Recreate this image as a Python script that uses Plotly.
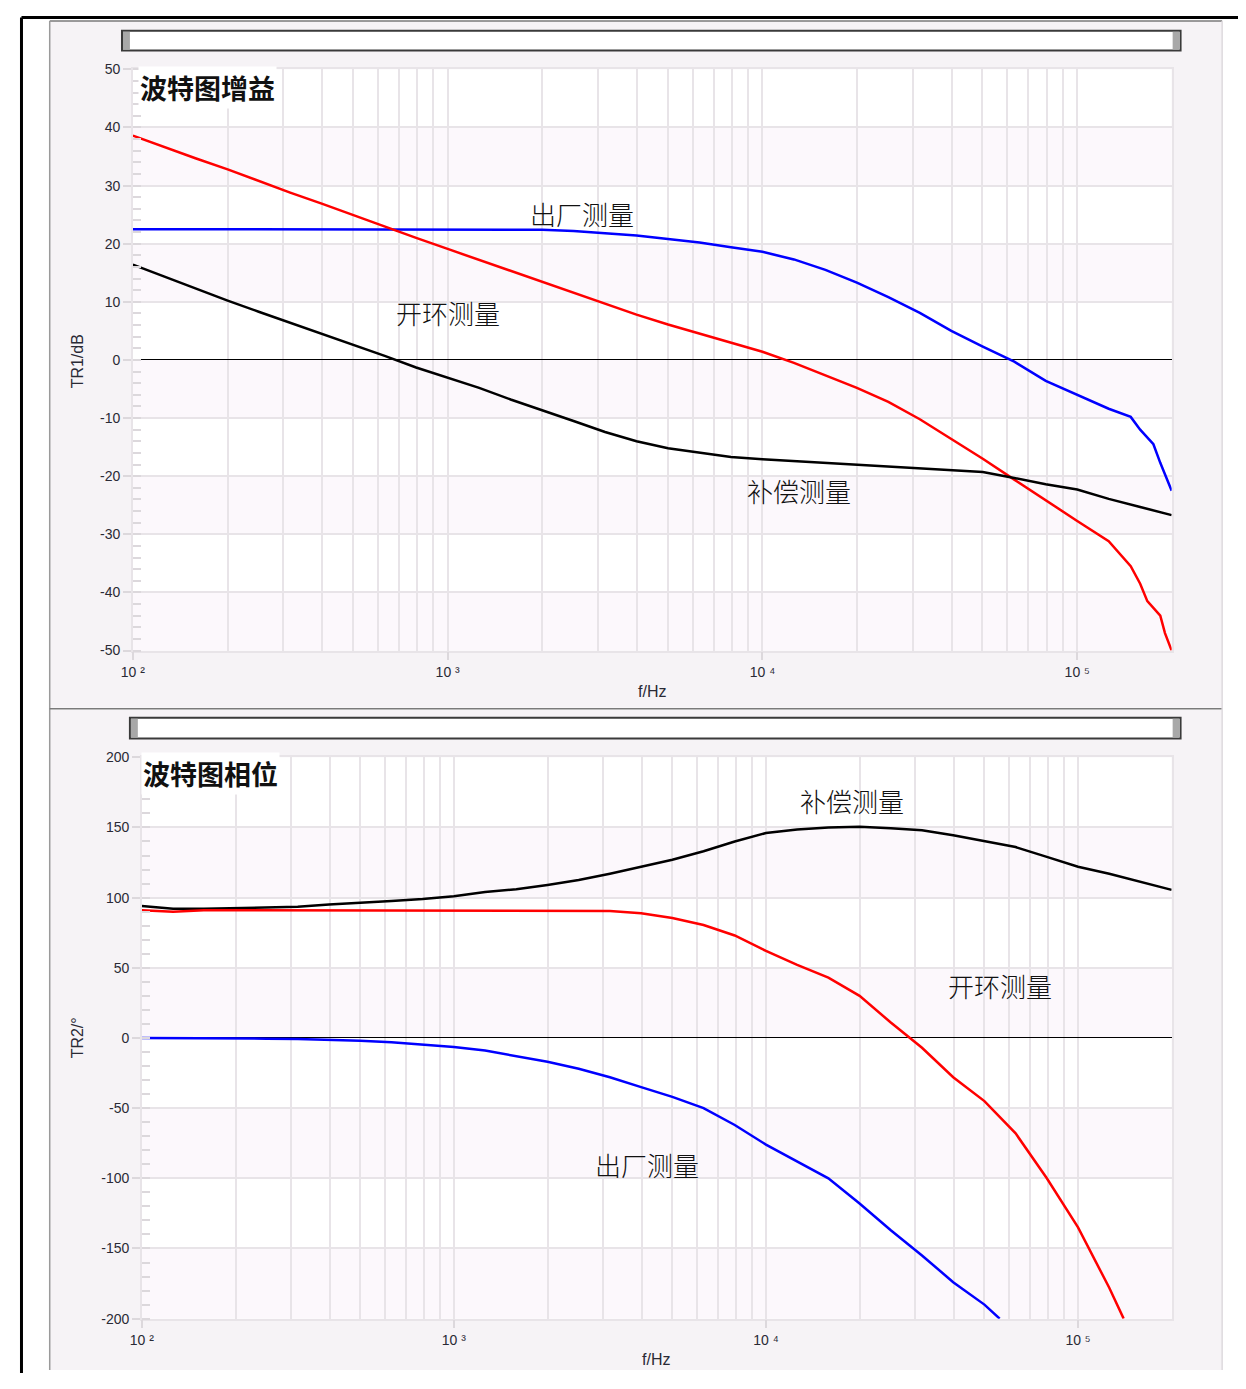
import plotly.graph_objects as go

# ---------------- data ----------------
# Gain (top panel), frequency in Hz
GAIN_FREQ = [100, 126, 158, 200, 251, 316, 398, 501, 631, 794,
             1000, 1259, 1585, 1995, 2512, 3162, 3981, 5012, 6310, 7943,
             10000, 12589, 15849, 19953, 25119, 31623, 39811, 50119, 63096, 79433,
             100000, 125893, 158489, 199526]

open_gain = [38.6, 36.6, 34.7, 32.8, 30.8, 28.8, 26.9, 24.9, 22.9, 21.0,
             19.1, 17.2, 15.3, 13.4, 11.5, 9.6, 7.8, 6.1, 4.5, 3.0,
             1.4, -0.5, -2.6, -4.8, -7.2, -10.2, -13.6, -17.0, -20.6, -24.2,
             -27.7, -31.2, -38.5, -50.0]
open_gain_tail_freq = [147900, 158489, 167000, 183600, 190000, 199526]
open_gain_tail = [-35.5, -38.5, -41.5, -44.0, -47.0, -50.0]

factory_gain = [22.5, 22.5, 22.4, 22.5, 22.5, 22.5, 22.5, 22.5, 22.5, 22.5,
                22.5, 22.5, 22.5, 22.4, 22.2, 21.8, 21.4, 20.8, 20.2, 19.4,
                18.6, 17.3, 15.5, 13.3, 10.8, 8.1, 5.0, 2.3, -0.3, -3.6,
                -6.0, -8.4, -12.0, -22.5]
factory_gain_tail_freq = [147900, 158489, 174600, 183600, 199526]
factory_gain_tail = [-9.8, -12.0, -14.5, -17.7, -22.5]

comp_gain = [16.4, 14.3, 12.3, 10.2, 8.3, 6.4, 4.6, 2.6, 0.7, -1.3,
             -3.0, -4.8, -6.8, -8.6, -10.5, -12.4, -14.0, -15.2, -16.0, -16.7,
             -17.1, -17.4, -17.7, -18.0, -18.3, -18.6, -18.9, -19.3, -20.3, -21.4,
             -22.3, -23.9, -25.3, -26.7]

# Phase (bottom panel)
PHASE_FREQ = GAIN_FREQ

comp_phase = [94, 92, 92, 92.5, 93, 93.5, 95, 96, 97.5, 99,
              101, 104, 106, 109, 112.5, 117, 122, 127, 133, 140,
              146, 148.5, 150, 150.5, 149.5, 148, 144.5, 140.5, 136, 129,
              122, 117, 111, 105.5]

open_phase_freq = [100, 126, 158, 200, 251, 316, 398, 501, 631, 794,
                   1000, 1259, 1585, 1995, 2512, 3162, 3981, 5012, 6310, 7943,
                   10000, 12589, 15849, 19953, 25119, 31623, 39811, 50119, 63096, 79433,
                   100000, 125893, 140000]
open_phase = [91, 90, 91, 91, 90.5, 91, 91, 91, 90.5, 91,
              91, 90.5, 91, 90.5, 90.5, 90.5, 88.8, 85.5, 80.5, 73,
              62, 52, 43, 30, 11, -7, -28, -45, -68, -100,
              -135, -178, -200]

factory_phase_freq = [100, 126, 158, 200, 251, 316, 398, 501, 631, 794,
                      1000, 1259, 1585, 1995, 2512, 3162, 3981, 5012, 6310, 7943,
                      10000, 12589, 15849, 19953, 25119, 31623, 39811, 50119, 56100]
factory_phase = [0, 0, 0, -0.3, -0.5, -0.8, -1.3, -2, -3, -4.5,
                 -6.5, -9, -13, -17, -22, -28, -35, -42, -50, -62,
                 -76, -88, -100, -118, -137, -155, -174, -190, -200]

DECADES = [100, 1000, 10000, 100000]
DECADE_LABELS = ["10 ²", "10 ³", "10 ⁴", "10 ⁵"]
MINOR_X = [m * d for d in DECADES for m in range(2, 10) if m * d <= 200000]
GAIN_TICKS = [50, 40, 30, 20, 10, 0, -10, -20, -30, -40, -50]
PHASE_TICKS = [200, 150, 100, 50, 0, -50, -100, -150, -200]

# ---------------- figure ----------------
# the page has an 8 px body margin, so the figure is 16 px smaller than the window
OFF = 8
W, H = 1246 - 2 * OFF, 1389 - 2 * OFF
def px(x): return (x - OFF) / W
def py(y): return 1 - (y - OFF) / H

RED, BLUE, BLACK = "#ff0000", "#0000ff", "#000000"
LW = 2.5

fig = go.Figure()

def add_line(x, y, color, xa, ya):
    fig.add_trace(go.Scatter(x=x, y=y, mode="lines", line=dict(color=color, width=LW),
                             xaxis=xa, yaxis=ya, showlegend=False, hoverinfo="skip"))

# top panel
add_line(GAIN_FREQ[:32] + factory_gain_tail_freq, factory_gain[:32] + factory_gain_tail, BLUE, "x", "y")
add_line(GAIN_FREQ[:32] + open_gain_tail_freq, open_gain[:32] + open_gain_tail, RED, "x", "y")
add_line(GAIN_FREQ, comp_gain, BLACK, "x", "y")
# bottom panel
add_line(PHASE_FREQ, comp_phase, BLACK, "x2", "y2")
add_line(open_phase_freq, open_phase, RED, "x2", "y2")
add_line(factory_phase_freq, factory_phase, BLUE, "x2", "y2")

GRID = "#e8e4e8"
TICKC = "#dcd8dc"
tickfont = dict(family="Liberation Sans, Arial, sans-serif", size=14, color="#2a2a35")

def xaxis_cfg(x0, x1, anchor):
    return dict(type="log", range=[2, 5.30], domain=[px(x0), px(x1)], anchor=anchor,
                tickmode="array", tickvals=DECADES, ticktext=DECADE_LABELS,
                ticks="outside", ticklen=8, tickcolor=TICKC, tickwidth=1.5,
                showgrid=True, gridcolor=GRID, gridwidth=1.5,
                minor=dict(tickmode="array", tickvals=MINOR_X, showgrid=True,
                           gridcolor=GRID, gridwidth=1.5, ticks=""),
                showline=True, linecolor=GRID, linewidth=1.5, mirror=True,
                zeroline=False, tickfont=tickfont, fixedrange=True)

def yaxis_cfg(y0, y1, rng, ticks, mdtick, anchor):
    return dict(range=rng, domain=[py(y1), py(y0)], anchor=anchor,
                tickmode="array", tickvals=ticks, ticktext=[str(t) for t in ticks],
                ticks="outside", ticklen=8, tickcolor=TICKC, tickwidth=1.5,
                showgrid=True, gridcolor=GRID, gridwidth=1.5,
                minor=dict(dtick=mdtick, tick0=0, ticks="inside", ticklen=8, tickcolor=TICKC,
                           tickwidth=1.5, showgrid=False),
                showline=True, linecolor=GRID, linewidth=1.5, mirror=True,
                zeroline=True, zerolinecolor="#000000", zerolinewidth=1.3,
                tickfont=tickfont, fixedrange=True)

# ---------------- layout shapes ----------------
shapes = []
PANEL = "#f6f3f6"
shapes.append(dict(type="rect", xref="paper", yref="paper", x0=px(38), x1=px(1222), y0=py(708), y1=py(13),
                   fillcolor=PANEL, line=dict(width=0), layer="below"))
shapes.append(dict(type="rect", xref="paper", yref="paper", x0=px(38), x1=px(1222), y0=py(1378), y1=py(710),
                   fillcolor=PANEL, line=dict(width=0), layer="below"))
for (xa, ya, xb, yb, c) in [(38, 13, 1222, 13, "#7a7a7a"), (38, 13, 38, 1378, "#9a9a9a"),
                            (38, 709, 1222, 709, "#7a7a7a"), (1222, 13, 1222, 1378, "#dedade")]:
    shapes.append(dict(type="line", xref="paper", yref="paper", x0=px(xa), x1=px(xb), y0=py(ya), y1=py(yb),
                       line=dict(color=c, width=1.5), layer="below"))
shapes.append(dict(type="rect", xref="paper", yref="paper", x0=px(122), x1=px(1171), y0=py(650), y1=py(62),
                   fillcolor="#ffffff", line=dict(width=0), layer="below"))
shapes.append(dict(type="rect", xref="paper", yref="paper", x0=px(131), x1=px(1171), y0=py(1326), y1=py(758),
                   fillcolor="#ffffff", line=dict(width=0), layer="below"))
for (x0, x1, y0, y1) in [(111, 1180, 23, 43), (119, 1180, 718, 739)]:
    shapes.append(dict(type="rect", xref="paper", yref="paper", x0=px(x0), x1=px(x1), y0=py(y1), y1=py(y0),
                       fillcolor="#ffffff", line=dict(color="#3a3a3a", width=2), layer="above"))
    shapes.append(dict(type="rect", xref="paper", yref="paper", x0=px(x0 + 1), x1=px(x0 + 8), y0=py(y1 - 1), y1=py(y0 + 1),
                       fillcolor="#a8a8a8", line=dict(width=0), layer="above"))
    shapes.append(dict(type="rect", xref="paper", yref="paper", x0=px(x1 - 8), x1=px(x1 - 1), y0=py(y1 - 1), y1=py(y0 + 1),
                       fillcolor="#a8a8a8", line=dict(width=0), layer="above"))
# outer black frame (top and left edges)
shapes.append(dict(type="line", xref="paper", yref="paper", x0=px(9.5), x1=1, y0=py(9.5), y1=py(9.5),
                   line=dict(color="#000000", width=3), layer="above"))
shapes.append(dict(type="line", xref="paper", yref="paper", x0=px(9.5), x1=px(9.5), y0=0, y1=py(9.5),
                   line=dict(color="#000000", width=3), layer="above"))
BAND = "#fcf8fc"
for (a, b) in [(40, 30), (20, 10), (0, -10), (-20, -30), (-40, -50)]:
    shapes.append(dict(type="rect", xref="x domain", yref="y", x0=0, x1=1, y0=b, y1=a,
                       fillcolor=BAND, line=dict(width=0), layer="below"))
for (a, b) in [(150, 100), (50, 0), (-50, -100), (-150, -200)]:
    shapes.append(dict(type="rect", xref="x2 domain", yref="y2", x0=0, x1=1, y0=b, y1=a,
                       fillcolor=BAND, line=dict(width=0), layer="below"))

# ---------------- annotations ----------------
CJK = "Noto Sans CJK SC, Noto Sans CJK JP, sans-serif"
ann = []
def label(text, x, y, size=26, bold=False, xanchor="center", bg=None, weight=None):
    f = dict(family=CJK, size=size, color="#111111")
    if weight:
        f["weight"] = weight
    d = dict(text=("<b>%s</b>" % text) if bold else text, xref="paper", yref="paper",
             x=px(x), y=py(y), xanchor=xanchor, yanchor="middle", showarrow=False,
             borderpad=1, font=f)
    if bg:
        d["bgcolor"] = bg
    ann.append(d)

label("波特图增益", 127, 80, size=27, bold=True, xanchor="left", bg="#ffffff")
label("波特图相位", 130, 774, size=27, bold=True, xanchor="left", bg="#ffffff")
label("出厂测量", 576, 208, weight=300)
label("开环测量", 440, 308, weight=300)
label("补偿测量", 795, 488, weight=300)
label("补偿测量", 848, 802, weight=300)
label("开环测量", 998, 989, weight=300)
label("出厂测量", 641, 1170, weight=300)

AXF = dict(family="Liberation Sans, Arial, sans-serif", size=16, color="#2a2a35")
ann.append(dict(text="TR1/dB", xref="paper", yref="paper", x=px(67), y=py(357), textangle=-90,
                showarrow=False, font=AXF, xanchor="center", yanchor="middle"))
ann.append(dict(text="f/Hz", xref="paper", yref="paper", x=px(646), y=py(691),
                showarrow=False, font=AXF, xanchor="center", yanchor="middle"))
ann.append(dict(text="TR2/°", xref="paper", yref="paper", x=px(67), y=py(1042), textangle=-90,
                showarrow=False, font=AXF, xanchor="center", yanchor="middle"))
ann.append(dict(text="f/Hz", xref="paper", yref="paper", x=px(650), y=py(1367),
                showarrow=False, font=AXF, xanchor="center", yanchor="middle"))

fig.update_layout(
    width=W, height=H, autosize=False,
    margin=dict(l=0, r=0, t=0, b=0),
    paper_bgcolor="#ffffff", plot_bgcolor="#ffffff",
    showlegend=False,
    xaxis=xaxis_cfg(122, 1171, "y"),
    yaxis=yaxis_cfg(62, 650, [-50, 50], GAIN_TICKS, 2, "x"),
    xaxis2=xaxis_cfg(131, 1171, "y2"),
    yaxis2=yaxis_cfg(758, 1326, [-200, 200], PHASE_TICKS, 10, "x2"),
    shapes=shapes, annotations=ann,
)

fig.write_html("out.html")
